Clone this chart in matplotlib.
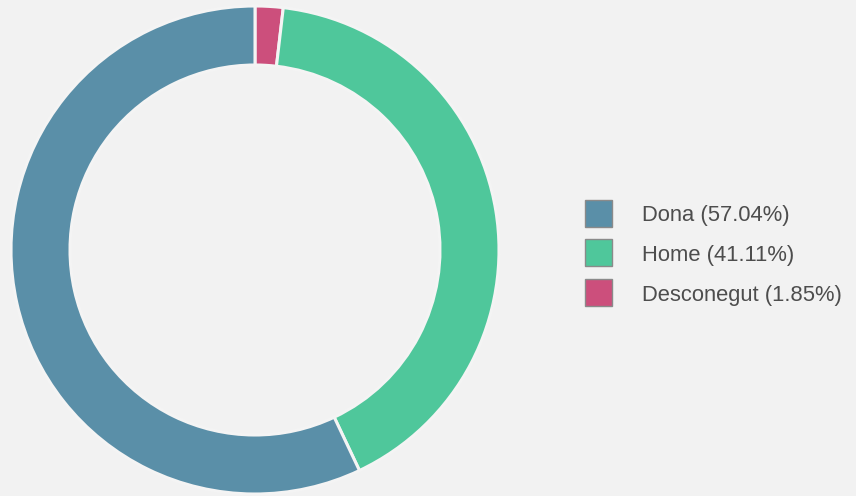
import matplotlib
matplotlib.use("Agg")
import matplotlib.pyplot as plt
from matplotlib.patches import Rectangle

categories = ["Dona", "Home", "Desconegut"]
values = [57.04, 41.11, 1.85]
colors = ["#5a8fa8", "#4fc79b", "#cc4f7c"]

W, H = 856, 496
bg = "#f2f2f2"
fig = plt.figure(figsize=(W / 100, H / 100), dpi=100, facecolor=bg)

cx, cy, r = 255, 250, 244
ax = fig.add_axes([(cx - r) / W, (H - cy - r) / H, 2 * r / W, 2 * r / H])
ax.set_facecolor(bg)
order = [2, 1, 0]
ax.pie([values[i] for i in order], colors=[colors[i] for i in order],
       startangle=90, counterclock=False, radius=1,
       wedgeprops=dict(width=59 / 244, edgecolor="#f4f4f4", linewidth=2.2))
ax.set_xlim(-1, 1)
ax.set_ylim(-1, 1)
ax.set_aspect("equal")
ax.axis("off")

# legend
box_x, box_w = 585, 27
text_x = 642
box_y = [213, 252, 292]
text_y = [216, 255, 295]
for cat, val, col, by, ty in zip(categories, values, colors, box_y, text_y):
    fig.add_artist(Rectangle(((box_x) / W, (H - by - box_w / 2) / H), box_w / W, box_w / H,
                             transform=fig.transFigure, facecolor=col,
                             edgecolor="#8a8a8a", linewidth=1.0))
    fig.text(text_x / W, (H - ty) / H, f"{cat} ({val:.2f}%)", ha="left", va="center",
             fontsize=15.8, color="#4d4d4d", family="Liberation Sans")

fig.savefig("out.png", dpi=100, facecolor=bg)
